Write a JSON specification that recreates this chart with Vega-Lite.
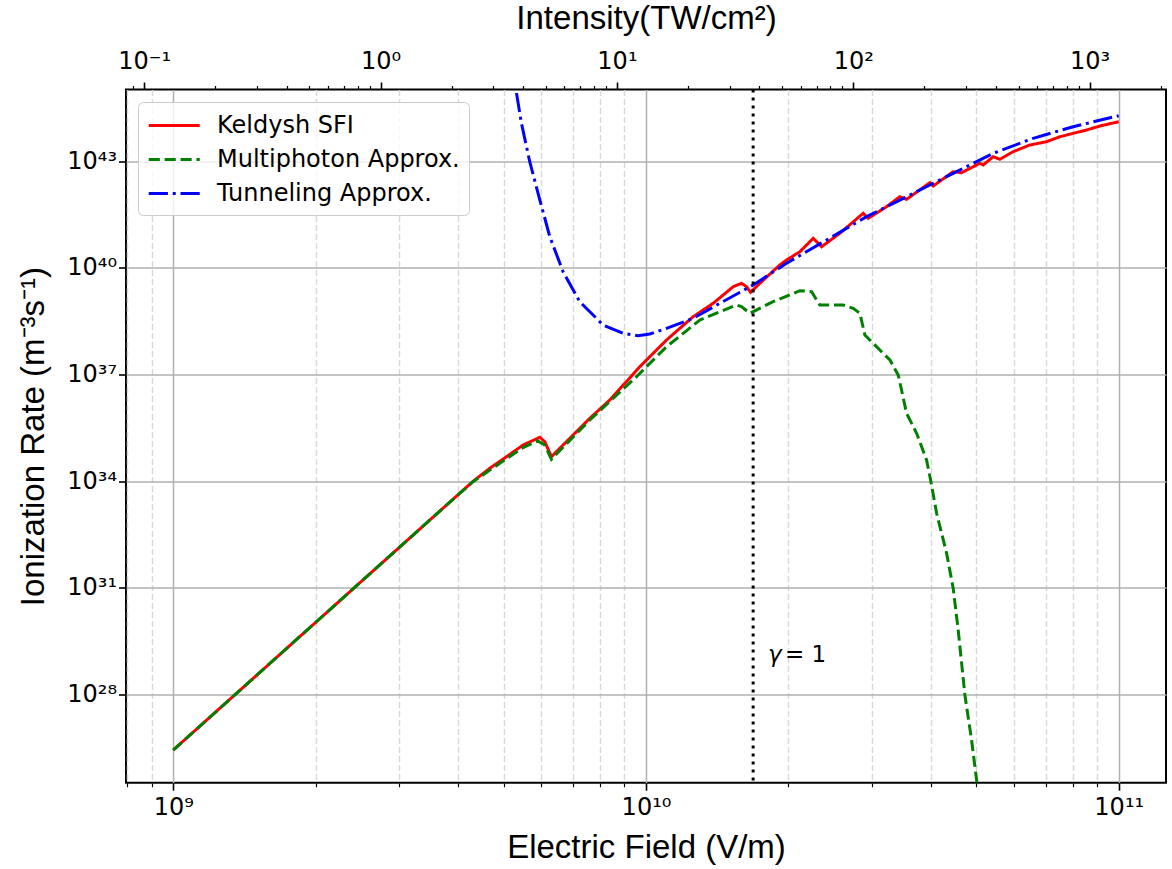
{
  "$schema": "https://vega.github.io/schema/vega-lite/v6.json",
  "width": 1040,
  "height": 693.2,
  "autosize": {"type": "none"},
  "padding": {"left": 126, "top": 89.5, "right": 6, "bottom": 86.3},
  "background": "white",
  "datasets": {
    "curves": [
      {"E": 1e9, "R": 2.73e26, "s": "Keldysh SFI"},
      {"E": 3.906e9, "R": 3.07e33, "s": "Keldysh SFI"},
      {"E": 4.306e9, "R": 9.8e33, "s": "Keldysh SFI"},
      {"E": 4.672e9, "R": 2.28e34, "s": "Keldysh SFI"},
      {"E": 5.068e9, "R": 4.831e34, "s": "Keldysh SFI"},
      {"E": 5.495e9, "R": 1.03e35, "s": "Keldysh SFI"},
      {"E": 5.963e9, "R": 1.698e35, "s": "Keldysh SFI"},
      {"E": 6.108e9, "R": 1.276e35, "s": "Keldysh SFI"},
      {"E": 6.31e9, "R": 4.831e34, "s": "Keldysh SFI"},
      {"E": 6.412e9, "R": 6.026e34, "s": "Keldysh SFI"},
      {"E": 7.013e9, "R": 1.972e35, "s": "Keldysh SFI"},
      {"E": 7.605e9, "R": 5.808e35, "s": "Keldysh SFI"},
      {"E": 8.384e9, "R": 1.901e36, "s": "Keldysh SFI"},
      {"E": 9.703e9, "R": 1.641e37, "s": "Keldysh SFI"},
      {"E": 1.105e10, "R": 9.247e37, "s": "Keldysh SFI"},
      {"E": 1.258e10, "R": 4.178e38, "s": "Keldysh SFI"},
      {"E": 1.387e10, "R": 9.954e38, "s": "Keldysh SFI"},
      {"E": 1.529e10, "R": 2.917e39, "s": "Keldysh SFI"},
      {"E": 1.592e10, "R": 3.639e39, "s": "Keldysh SFI"},
      {"E": 1.632e10, "R": 2.917e39, "s": "Keldysh SFI"},
      {"E": 1.664e10, "R": 2.032e39, "s": "Keldysh SFI"},
      {"E": 1.741e10, "R": 3.639e39, "s": "Keldysh SFI"},
      {"E": 1.919e10, "R": 1.189e40, "s": "Keldysh SFI"},
      {"E": 1.983e10, "R": 1.644e40, "s": "Keldysh SFI"},
      {"E": 2.116e10, "R": 2.812e40, "s": "Keldysh SFI"},
      {"E": 2.258e10, "R": 6.699e40, "s": "Keldysh SFI"},
      {"E": 2.352e10, "R": 3.89e40, "s": "Keldysh SFI"},
      {"E": 2.571e10, "R": 9.268e40, "s": "Keldysh SFI"},
      {"E": 2.88e10, "R": 3.381e41, "s": "Keldysh SFI"},
      {"E": 2.951e10, "R": 2.449e41, "s": "Keldysh SFI"},
      {"E": 3.228e10, "R": 5.188e41, "s": "Keldysh SFI"},
      {"E": 3.443e10, "R": 9.908e41, "s": "Keldysh SFI"},
      {"E": 3.558e10, "R": 8.375e41, "s": "Keldysh SFI"},
      {"E": 3.986e10, "R": 2.455e42, "s": "Keldysh SFI"},
      {"E": 4.051e10, "R": 1.982e42, "s": "Keldysh SFI"},
      {"E": 4.465e10, "R": 5.0e42, "s": "Keldysh SFI"},
      {"E": 4.652e10, "R": 4.688e42, "s": "Keldysh SFI"},
      {"E": 5.085e10, "R": 8.61e42, "s": "Keldysh SFI"},
      {"E": 5.168e10, "R": 7.727e42, "s": "Keldysh SFI"},
      {"E": 5.426e10, "R": 1.321e43, "s": "Keldysh SFI"},
      {"E": 5.605e10, "R": 1.117e43, "s": "Keldysh SFI"},
      {"E": 5.981e10, "R": 1.828e43, "s": "Keldysh SFI"},
      {"E": 6.487e10, "R": 2.818e43, "s": "Keldysh SFI"},
      {"E": 7.037e10, "R": 3.491e43, "s": "Keldysh SFI"},
      {"E": 7.508e10, "R": 4.82e43, "s": "Keldysh SFI"},
      {"E": 8.01e10, "R": 6.012e43, "s": "Keldysh SFI"},
      {"E": 8.551e10, "R": 7.447e43, "s": "Keldysh SFI"},
      {"E": 9.125e10, "R": 9.638e43, "s": "Keldysh SFI"},
      {"E": 1e11, "R": 1.274e44, "s": "Keldysh SFI"},

      {"E": 1e9, "R": 2.73e26, "s": "Multiphoton Approx."},
      {"E": 3.906e9, "R": 3.07e33, "s": "Multiphoton Approx."},
      {"E": 4.306e9, "R": 9.6e33, "s": "Multiphoton Approx."},
      {"E": 5.068e9, "R": 4.246e34, "s": "Multiphoton Approx."},
      {"E": 5.495e9, "R": 8.77e34, "s": "Multiphoton Approx."},
      {"E": 5.902e9, "R": 1.337e35, "s": "Multiphoton Approx."},
      {"E": 6.108e9, "R": 1.03e35, "s": "Multiphoton Approx."},
      {"E": 6.31e9, "R": 4.083e34, "s": "Multiphoton Approx."},
      {"E": 6.466e9, "R": 5.754e34, "s": "Multiphoton Approx."},
      {"E": 7.605e9, "R": 5.2e35, "s": "Multiphoton Approx."},
      {"E": 9.548e9, "R": 8.59e36, "s": "Multiphoton Approx."},
      {"E": 1.105e10, "R": 5.998e37, "s": "Multiphoton Approx."},
      {"E": 1.3e10, "R": 3.381e38, "s": "Multiphoton Approx."},
      {"E": 1.554e10, "R": 8.913e38, "s": "Multiphoton Approx."},
      {"E": 1.592e10, "R": 8.0e38, "s": "Multiphoton Approx."},
      {"E": 1.658e10, "R": 5.212e38, "s": "Multiphoton Approx."},
      {"E": 1.857e10, "R": 1.104e39, "s": "Multiphoton Approx."},
      {"E": 2.116e10, "R": 2.254e39, "s": "Multiphoton Approx."},
      {"E": 2.24e10, "R": 2.113e39, "s": "Multiphoton Approx."},
      {"E": 2.332e10, "R": 8.913e38, "s": "Multiphoton Approx."},
      {"E": 2.613e10, "R": 8.913e38, "s": "Multiphoton Approx."},
      {"E": 2.743e10, "R": 7.211e38, "s": "Multiphoton Approx."},
      {"E": 2.834e10, "R": 5.212e38, "s": "Multiphoton Approx."},
      {"E": 2.904e10, "R": 1.279e38, "s": "Multiphoton Approx."},
      {"E": 2.976e10, "R": 9.247e37, "s": "Multiphoton Approx."},
      {"E": 3.281e10, "R": 2.535e37, "s": "Multiphoton Approx."},
      {"E": 3.416e10, "R": 9.594e36, "s": "Multiphoton Approx."},
      {"E": 3.472e10, "R": 3.631e36, "s": "Multiphoton Approx."},
      {"E": 3.558e10, "R": 8.035e35, "s": "Multiphoton Approx."},
      {"E": 3.736e10, "R": 2.203e35, "s": "Multiphoton Approx."},
      {"E": 3.922e10, "R": 3.908e34, "s": "Multiphoton Approx."},
      {"E": 4.0e10, "R": 1.069e34, "s": "Multiphoton Approx."},
      {"E": 4.119e10, "R": 1.239e33, "s": "Multiphoton Approx."},
      {"E": 4.324e10, "R": 9.29e31, "s": "Multiphoton Approx."},
      {"E": 4.465e10, "R": 9.638e30, "s": "Multiphoton Approx."},
      {"E": 4.575e10, "R": 6.471e29, "s": "Multiphoton Approx."},
      {"E": 4.727e10, "R": 9.616e27, "s": "Multiphoton Approx."},
      {"E": 4.883e10, "R": 5.224e26, "s": "Multiphoton Approx."},
      {"E": 5.004e10, "R": 3.917e25, "s": "Multiphoton Approx."},
      {"E": 5.06e10, "R": 1.07e25, "s": "Multiphoton Approx."},

      {"E": 5.321e9, "R": 8.166e44, "s": "Tunneling Approx."},
      {"E": 5.452e9, "R": 1.148e44, "s": "Tunneling Approx."},
      {"E": 5.676e9, "R": 9.55e42, "s": "Tunneling Approx."},
      {"E": 5.963e9, "R": 7.998e41, "s": "Tunneling Approx."},
      {"E": 6.259e9, "R": 7.43e40, "s": "Tunneling Approx."},
      {"E": 6.676e9, "R": 7.709e39, "s": "Tunneling Approx."},
      {"E": 7.242e9, "R": 1.104e39, "s": "Tunneling Approx."},
      {"E": 8.113e9, "R": 2.443e38, "s": "Tunneling Approx."},
      {"E": 8.945e9, "R": 1.429e38, "s": "Tunneling Approx."},
      {"E": 9.623e9, "R": 1.222e38, "s": "Tunneling Approx."},
      {"E": 1.019e10, "R": 1.365e38, "s": "Tunneling Approx."},
      {"E": 1.105e10, "R": 1.972e38, "s": "Tunneling Approx."},
      {"E": 1.258e10, "R": 3.776e38, "s": "Tunneling Approx."},
      {"E": 1.433e10, "R": 9.954e38, "s": "Tunneling Approx."},
      {"E": 1.685e10, "R": 3.26e39, "s": "Tunneling Approx."},
      {"E": 1.983e10, "R": 1.327e40, "s": "Tunneling Approx."},
      {"E": 2.409e10, "R": 5.998e40, "s": "Tunneling Approx."},
      {"E": 2.928e10, "R": 2.716e41, "s": "Tunneling Approx."},
      {"E": 3.558e10, "R": 9.908e41, "s": "Tunneling Approx."},
      {"E": 4.465e10, "R": 4.508e42, "s": "Tunneling Approx."},
      {"E": 5.426e10, "R": 1.648e43, "s": "Tunneling Approx."},
      {"E": 6.592e10, "R": 4.345e43, "s": "Tunneling Approx."},
      {"E": 8.01e10, "R": 9.226e43, "s": "Tunneling Approx."},
      {"E": 1e11, "R": 1.879e44, "s": "Tunneling Approx."}
    ],
    "gammaLine": [{"E": 1.685e10}],
    "gammaSym": [{"E": 1.811e10, "R": 1.28e29, "t": "γ"}],
    "gammaVal": [{"E": 1.967e10, "R": 1.28e29, "t": "= 1"}],
    "intensity": [{"I": 0.1}, {"I": 1000}]
  },
  "config": {
    "view": {"stroke": "black", "strokeWidth": 2},
    "axis": {
      "labelFont": "DejaVu Sans",
      "labelFontSize": 24,
      "labelColor": "black",
      "titleFont": "Liberation Sans",
      "titleFontSize": 33,
      "titleFontWeight": "normal",
      "titleColor": "black",
      "tickColor": "black",
      "domain": false,
      "labelPadding": 5,
      "labelOverlap": false,
      "labelFlush": false,
      "labelBound": false
    }
  },
  "layer": [
    {
      "data": {"name": "curves"},
      "mark": {"type": "line", "strokeWidth": 3, "clip": true},
      "encoding": {
        "x": {
          "field": "E",
          "type": "quantitative",
          "scale": {"type": "log", "domain": [7.943e8, 1.2589e11], "nice": false},
          "axis": {
            "orient": "bottom",
            "title": "Electric Field (V/m)",
            "titlePadding": 12,
            "values": [8e8, 9e8, 1e9, 2e9, 3e9, 4e9, 5e9, 6e9, 7e9, 8e9, 9e9, 1e10, 2e10, 3e10, 4e10, 5e10, 6e10, 7e10, 8e10, 9e10, 1e11],
            "labelExpr": "abs(log(datum.value)/LN10 - round(log(datum.value)/LN10)) > 0.001 ? '' : '10' + replace(replace(replace(replace(replace(replace(replace(replace(replace(replace(replace(toString(round(log(datum.value)/LN10)), regexp('-','g'), '⁻'), regexp('0','g'), '⁰'), regexp('1','g'), '¹'), regexp('2','g'), '²'), regexp('3','g'), '³'), regexp('4','g'), '⁴'), regexp('5','g'), '⁵'), regexp('6','g'), '⁶'), regexp('7','g'), '⁷'), regexp('8','g'), '⁸'), regexp('9','g'), '⁹')",
            "grid": true,
            "gridColor": {"condition": {"test": "abs(log(datum.value)/LN10 - round(log(datum.value)/LN10)) < 0.001", "value": "#b0b0b0"}, "value": "#d9d9d9"},
            "gridDash": {"condition": {"test": "abs(log(datum.value)/LN10 - round(log(datum.value)/LN10)) < 0.001", "value": [1, 0]}, "value": [6, 3]},
            "gridWidth": 1.5,
            "tickSize": {"condition": {"test": "abs(log(datum.value)/LN10 - round(log(datum.value)/LN10)) < 0.001", "value": 7.5}, "value": 4},
            "tickWidth": {"condition": {"test": "abs(log(datum.value)/LN10 - round(log(datum.value)/LN10)) < 0.001", "value": 1.6}, "value": 1.2}
          }
        },
        "y": {
          "field": "R",
          "type": "quantitative",
          "scale": {"type": "log", "domain": [3.289e25, 1.025e45], "nice": false},
          "axis": {
            "title": "Ionization Rate (m⁻³s⁻¹)",
            "titlePadding": 16,
            "labelPadding": 2,
            "values": [1e28, 1e31, 1e34, 1e37, 1e40, 1e43],
            "labelExpr": "'10' + replace(replace(replace(replace(replace(replace(replace(replace(replace(replace(replace(toString(round(log(datum.value)/LN10)), regexp('-','g'), '⁻'), regexp('0','g'), '⁰'), regexp('1','g'), '¹'), regexp('2','g'), '²'), regexp('3','g'), '³'), regexp('4','g'), '⁴'), regexp('5','g'), '⁵'), regexp('6','g'), '⁶'), regexp('7','g'), '⁷'), regexp('8','g'), '⁸'), regexp('9','g'), '⁹')",
            "grid": true,
            "gridColor": "#b0b0b0",
            "gridWidth": 1.5,
            "tickSize": 7.5,
            "tickWidth": 1.6
          }
        },
        "color": {
          "field": "s",
          "type": "nominal",
          "scale": {"domain": ["Keldysh SFI", "Multiphoton Approx.", "Tunneling Approx."], "range": ["#ff0000", "#008000", "#0000ff"]},
          "legend": {
            "title": null,
            "orient": "none",
            "legendX": 12,
            "legendY": 12.5,
            "labelFont": "DejaVu Sans",
            "labelFontSize": 24,
            "labelColor": "black",
            "labelLimit": 500,
            "symbolType": "M-1,0H3",
            "symbolSize": 650,
            "symbolStrokeWidth": 3,
            "labelOffset": 41,
            "padding": 9,
            "rowPadding": 7,
            "strokeColor": "#cccccc",
            "fillColor": "rgba(255,255,255,0.8)",
            "cornerRadius": 5
          }
        },
        "strokeDash": {
          "field": "s",
          "type": "nominal",
          "scale": {"domain": ["Keldysh SFI", "Multiphoton Approx.", "Tunneling Approx."], "range": [[1, 0], [11.1, 4.8], [19.2, 4.8, 3, 4.8]]},
          "legend": {
            "title": null,
            "orient": "none",
            "legendX": 12,
            "legendY": 12.5,
            "labelFont": "DejaVu Sans",
            "labelFontSize": 24,
            "labelColor": "black",
            "labelLimit": 500,
            "symbolType": "M-1,0H3",
            "symbolSize": 650,
            "symbolStrokeWidth": 3,
            "labelOffset": 41,
            "padding": 9,
            "rowPadding": 7,
            "strokeColor": "#cccccc",
            "fillColor": "rgba(255,255,255,0.8)",
            "cornerRadius": 5
          }
        }
      }
    },
    {
      "data": {"name": "gammaLine"},
      "mark": {"type": "rule", "color": "black", "strokeWidth": 3, "strokeDash": [3, 5]},
      "encoding": {
        "x": {"field": "E", "type": "quantitative", "scale": {"type": "log", "domain": [7.943e8, 1.2589e11], "nice": false}, "axis": null}
      }
    },
    {
      "data": {"name": "gammaSym"},
      "mark": {"type": "text", "font": "DejaVu Sans", "fontSize": 23, "fontStyle": "italic", "align": "left", "baseline": "middle", "color": "black"},
      "encoding": {
        "x": {"field": "E", "type": "quantitative", "scale": {"type": "log", "domain": [7.943e8, 1.2589e11], "nice": false}, "axis": null},
        "y": {
          "field": "R",
          "type": "quantitative",
          "axis": {
            "title": "Ionization Rate (m⁻³s⁻¹)",
            "titlePadding": 16,
            "labelPadding": 2,
            "values": [1e28, 1e31, 1e34, 1e37, 1e40, 1e43],
            "labelExpr": "'10' + replace(replace(replace(replace(replace(replace(replace(replace(replace(replace(replace(toString(round(log(datum.value)/LN10)), regexp('-','g'), '⁻'), regexp('0','g'), '⁰'), regexp('1','g'), '¹'), regexp('2','g'), '²'), regexp('3','g'), '³'), regexp('4','g'), '⁴'), regexp('5','g'), '⁵'), regexp('6','g'), '⁶'), regexp('7','g'), '⁷'), regexp('8','g'), '⁸'), regexp('9','g'), '⁹')",
            "grid": true,
            "gridColor": "#b0b0b0",
            "gridWidth": 1.5,
            "tickSize": 7.5,
            "tickWidth": 1.6
          }
        },
        "text": {"field": "t", "type": "nominal"}
      }
    },
    {
      "data": {"name": "gammaVal"},
      "mark": {"type": "text", "font": "DejaVu Sans", "fontSize": 23, "align": "left", "baseline": "middle", "color": "black"},
      "encoding": {
        "x": {"field": "E", "type": "quantitative", "scale": {"type": "log", "domain": [7.943e8, 1.2589e11], "nice": false}, "axis": null},
        "y": {
          "field": "R",
          "type": "quantitative",
          "axis": {
            "title": "Ionization Rate (m⁻³s⁻¹)",
            "titlePadding": 16,
            "labelPadding": 2,
            "values": [1e28, 1e31, 1e34, 1e37, 1e40, 1e43],
            "labelExpr": "'10' + replace(replace(replace(replace(replace(replace(replace(replace(replace(replace(replace(toString(round(log(datum.value)/LN10)), regexp('-','g'), '⁻'), regexp('0','g'), '⁰'), regexp('1','g'), '¹'), regexp('2','g'), '²'), regexp('3','g'), '³'), regexp('4','g'), '⁴'), regexp('5','g'), '⁵'), regexp('6','g'), '⁶'), regexp('7','g'), '⁷'), regexp('8','g'), '⁸'), regexp('9','g'), '⁹')",
            "grid": true,
            "gridColor": "#b0b0b0",
            "gridWidth": 1.5,
            "tickSize": 7.5,
            "tickWidth": 1.6
          }
        },
        "text": {"field": "t", "type": "nominal"}
      }
    },
    {
      "data": {"name": "intensity"},
      "mark": {"type": "point", "opacity": 0},
      "encoding": {
        "x": {
          "field": "I",
          "type": "quantitative",
          "scale": {"type": "log", "domain": [0.08375, 2103.7], "nice": false},
          "axis": {
            "orient": "top",
            "title": "Intensity(TW/cm²)",
            "titlePadding": 14,
            "labelPadding": 9,
            "grid": false,
            "values": [0.09, 0.1, 0.2, 0.3, 0.4, 0.5, 0.6, 0.7, 0.8, 0.9, 1, 2, 3, 4, 5, 6, 7, 8, 9, 10, 20, 30, 40, 50, 60, 70, 80, 90, 100, 200, 300, 400, 500, 600, 700, 800, 900, 1000, 2000],
            "labelExpr": "abs(log(datum.value)/LN10 - round(log(datum.value)/LN10)) > 0.001 ? '' : '10' + replace(replace(replace(replace(replace(replace(replace(replace(replace(replace(replace(toString(round(log(datum.value)/LN10)), regexp('-','g'), '⁻'), regexp('0','g'), '⁰'), regexp('1','g'), '¹'), regexp('2','g'), '²'), regexp('3','g'), '³'), regexp('4','g'), '⁴'), regexp('5','g'), '⁵'), regexp('6','g'), '⁶'), regexp('7','g'), '⁷'), regexp('8','g'), '⁸'), regexp('9','g'), '⁹')",
            "tickSize": {"condition": {"test": "abs(log(datum.value)/LN10 - round(log(datum.value)/LN10)) < 0.001", "value": 7.5}, "value": 4},
            "tickWidth": {"condition": {"test": "abs(log(datum.value)/LN10 - round(log(datum.value)/LN10)) < 0.001", "value": 1.6}, "value": 1.2}
          }
        }
      }
    }
  ],
  "resolve": {"scale": {"x": "independent"}}
}
